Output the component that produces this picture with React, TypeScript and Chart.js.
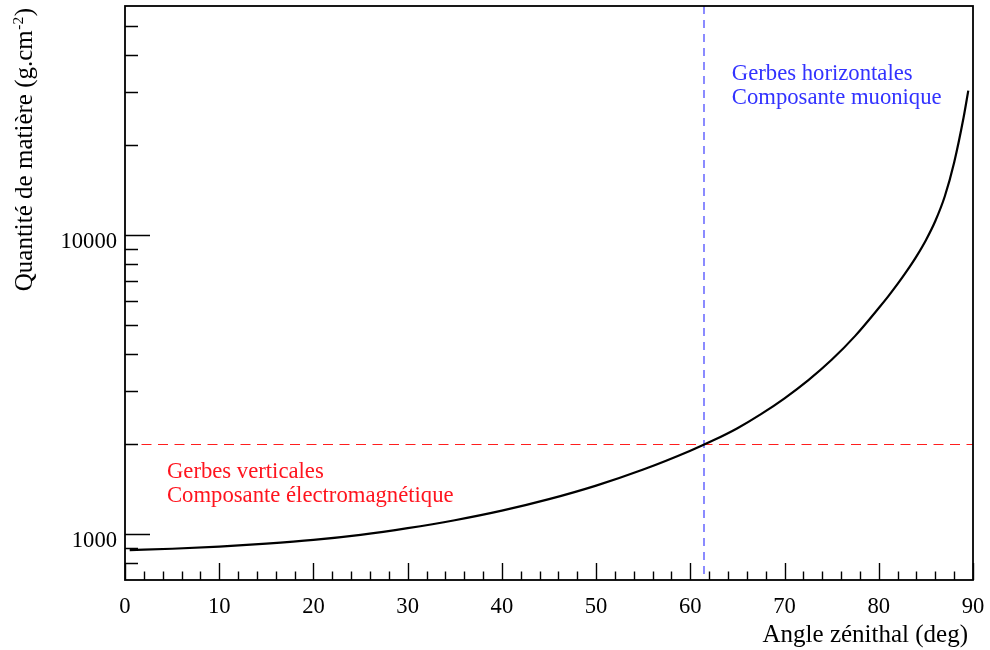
import React, { useEffect, useRef } from "react";
import { Chart, registerables } from "chart.js";

Chart.register(...registerables);

// Zenith angle (deg) and slant depth (g.cm-2)
const ANGLES = [0.5, 5, 10, 15, 20, 25, 30, 35, 40, 45, 50, 55, 60, 62.5, 65, 67.5, 70, 72.5, 75, 77.5, 80, 81, 82, 83, 84, 85, 86, 87, 88, 89, 89.5];
const DEPTHS = [884, 893, 908, 929, 956, 994, 1046, 1112, 1197, 1308, 1452, 1643, 1899, 2061, 2259, 2517, 2844, 3265, 3825, 4599, 5697, 6233, 6859, 7598, 8486, 9610, 11140, 13450, 17480, 24700, 30390];

// Axis ranges and ticks
const X_MIN = 0;
const X_MAX = 90;
const Y_MIN = 702;
const Y_MAX = 58300;
const X_MAJOR = [0, 10, 20, 30, 40, 50, 60, 70, 80, 90];
const X_MINOR = [2, 4, 6, 8, 12, 14, 16, 18, 22, 24, 26, 28, 32, 34, 36, 38, 42, 44, 46, 48, 52, 54, 56, 58, 62, 64, 66, 68, 72, 74, 76, 78, 82, 84, 86, 88];
const Y_MAJOR = [1000, 10000];
const Y_MINOR = [800, 900, 2000, 3000, 4000, 5000, 6000, 7000, 8000, 9000, 20000, 30000, 40000, 50000];

// Reference lines
const THRESHOLD_DEPTH = 2000;
const THRESHOLD_ANGLE = 61.5;

// Texts
const X_TITLE = "Angle zénithal (deg)";
const Y_TITLE_MAIN = "Quantité de matière (g.cm";
const Y_TITLE_SUP = "-2";
const Y_TITLE_END = ")";
const RED_LINES = ["Gerbes verticales", "Composante électromagnétique"];
const BLUE_LINES = ["Gerbes horizontales", "Composante muonique"];
const RED_ANCHOR = { x: 4.45, y: 1540 };
const BLUE_ANCHOR = { x: 64.4, y: 33000 };

const FONT = '"Liberation Serif", "Times New Roman", serif';
const RED = "rgb(255,20,30)";
const BLUE = "rgb(50,50,255)";

const rootPlugin = {
  id: "rootStyle",
  beforeDatasetsDraw(chart: any) {
    const { ctx, chartArea: a, scales } = chart;
    const x = scales.x;
    const y = scales.y;
    ctx.save();
    // horizontal red dashed line
    const yT = Math.round(y.getPixelForValue(THRESHOLD_DEPTH)) + 0.5;
    ctx.strokeStyle = "rgb(255,30,30)";
    ctx.lineWidth = 1;
    ctx.setLineDash([10, 6.5]);
    ctx.beginPath();
    ctx.moveTo(a.left, yT);
    ctx.lineTo(a.right, yT);
    ctx.stroke();
    // vertical blue dashed line
    const xT = Math.round(x.getPixelForValue(THRESHOLD_ANGLE));
    ctx.strokeStyle = "rgb(110,110,255)";
    ctx.lineWidth = 1.6;
    ctx.setLineDash([8, 6]);
    ctx.beginPath();
    ctx.moveTo(xT, a.top);
    ctx.lineTo(xT, a.bottom);
    ctx.stroke();
    ctx.restore();
  },
  afterDraw(chart: any) {
    const { ctx, chartArea: a, scales } = chart;
    const x = scales.x;
    const y = scales.y;
    ctx.save();
    ctx.setLineDash([]);
    // frame
    ctx.strokeStyle = "#000";
    ctx.lineWidth = 1.8;
    ctx.strokeRect(a.left, a.top, a.right - a.left, a.bottom - a.top);

    // ticks
    ctx.lineWidth = 1.4;
    ctx.beginPath();
    X_MAJOR.forEach((v) => {
      const px = Math.round(x.getPixelForValue(v)) + 0.5;
      ctx.moveTo(px, a.bottom);
      ctx.lineTo(px, a.bottom - 17);
    });
    X_MINOR.forEach((v) => {
      const px = Math.round(x.getPixelForValue(v)) + 0.5;
      ctx.moveTo(px, a.bottom);
      ctx.lineTo(px, a.bottom - 8.5);
    });
    Y_MAJOR.forEach((v) => {
      const py = Math.round(y.getPixelForValue(v)) + 0.5;
      ctx.moveTo(a.left, py);
      ctx.lineTo(a.left + 25, py);
    });
    Y_MINOR.forEach((v) => {
      const py = Math.round(y.getPixelForValue(v)) + 0.5;
      ctx.moveTo(a.left, py);
      ctx.lineTo(a.left + 13, py);
    });
    ctx.stroke();

    // tick labels
    ctx.fillStyle = "#000";
    ctx.font = `22.6px ${FONT}`;
    ctx.textBaseline = "alphabetic";
    ctx.textAlign = "center";
    X_MAJOR.forEach((v) => {
      ctx.fillText(String(v), x.getPixelForValue(v), a.bottom + 33);
    });
    ctx.textAlign = "right";
    Y_MAJOR.forEach((v) => {
      ctx.fillText(String(v), a.left - 8, y.getPixelForValue(v) + 13);
    });

    // x title
    ctx.font = `25px ${FONT}`;
    ctx.textAlign = "right";
    ctx.fillText(X_TITLE, a.right - 5, a.bottom + 62);

    // y title (rotated, right-aligned at top)
    ctx.save();
    ctx.translate(32, a.top + 2);
    ctx.rotate(-Math.PI / 2);
    ctx.textAlign = "left";
    ctx.font = `25px ${FONT}`;
    const wMain = ctx.measureText(Y_TITLE_MAIN).width;
    const wEnd = ctx.measureText(Y_TITLE_END).width;
    ctx.font = `15.5px ${FONT}`;
    const wSup = ctx.measureText(Y_TITLE_SUP).width;
    const total = wMain + wSup + wEnd + 1;
    let cx = -total;
    ctx.font = `25px ${FONT}`;
    ctx.fillText(Y_TITLE_MAIN, cx, 0);
    cx += wMain;
    ctx.font = `15.5px ${FONT}`;
    ctx.fillText(Y_TITLE_SUP, cx + 0.5, -9.5);
    cx += wSup + 1;
    ctx.font = `25px ${FONT}`;
    ctx.fillText(Y_TITLE_END, cx, 0);
    ctx.restore();

    // annotations
    ctx.font = `22.7px ${FONT}`;
    ctx.textAlign = "left";
    ctx.fillStyle = RED;
    const rx = x.getPixelForValue(RED_ANCHOR.x);
    const ry = y.getPixelForValue(RED_ANCHOR.y);
    RED_LINES.forEach((t, i) => ctx.fillText(t, rx, ry + i * 24));
    ctx.fillStyle = BLUE;
    const bx = x.getPixelForValue(BLUE_ANCHOR.x);
    const by = y.getPixelForValue(BLUE_ANCHOR.y);
    BLUE_LINES.forEach((t, i) => ctx.fillText(t, bx, by + i * 24));
    ctx.restore();
  },
};

export default function App() {
  const ref = useRef<HTMLCanvasElement | null>(null);
  useEffect(() => {
    if (!ref.current) return;
    const chart = new Chart(ref.current, {
      type: "line",
      data: {
        datasets: [
          {
            data: ANGLES.map((a, i) => ({ x: a, y: DEPTHS[i] })),
            borderColor: "#000",
            borderWidth: 2.2,
            pointRadius: 0,
            cubicInterpolationMode: "monotone",
            fill: false,
          },
        ],
      },
      options: {
        animation: false,
        responsive: false,
        devicePixelRatio: 1,
        layout: { padding: { left: 125, right: 17, top: 6, bottom: 70 } },
        plugins: { legend: { display: false }, tooltip: { enabled: false } },
        scales: {
          x: { type: "linear", min: X_MIN, max: X_MAX, display: false },
          y: { type: "logarithmic", min: Y_MIN, max: Y_MAX, display: false },
        },
      },
      plugins: [rootPlugin],
    } as any);
    return () => chart.destroy();
  }, []);
  return (
    <div style={{ position: "fixed", left: 0, top: 0, width: 990, height: 650, background: "#fff" }}>
      <canvas ref={ref} width={990} height={650} />
    </div>
  );
}
